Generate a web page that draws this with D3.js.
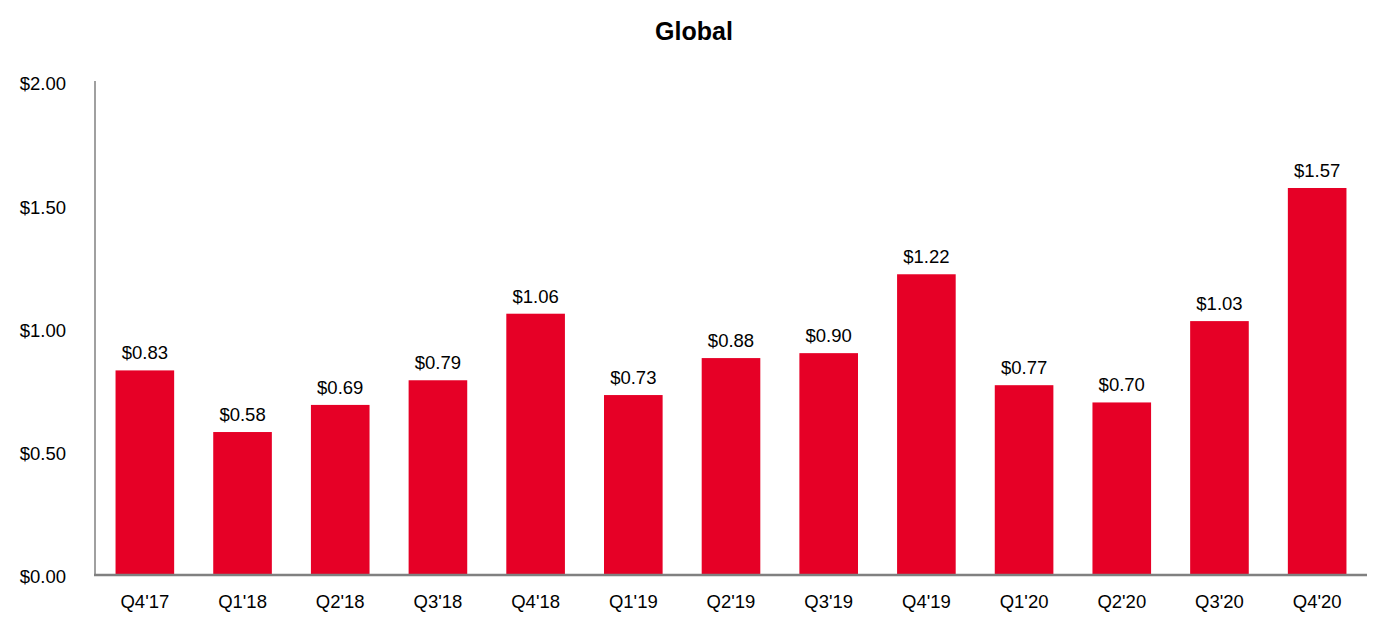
<!DOCTYPE html>
<html><head><meta charset="utf-8">
<script src="https://cdn.jsdelivr.net/npm/d3@7"></script>
<style>body{margin:0;background:#fff;}svg{display:block;font-family:"Liberation Sans",Arial,sans-serif;}</style>
</head><body>
<svg id="c" width="1386" height="630"></svg>
<script>
const categories = ["Q4'17","Q1'18","Q2'18","Q3'18","Q4'18","Q1'19","Q2'19","Q3'19","Q4'19","Q1'20","Q2'20","Q3'20","Q4'20"];
const values = [0.83,0.58,0.69,0.79,1.06,0.73,0.88,0.90,1.22,0.77,0.70,1.03,1.57];
const yTicks = [0,0.5,1.0,1.5,2.0];
const title = "Global";

const svg = d3.select("#c");
const x = d3.scaleBand().domain(categories).range([96,1366]).paddingInner(0.4).paddingOuter(0.2);
const y = d3.scaleLinear().domain([0,2]).range([575,82]);
const fmt = d => "$" + d.toFixed(2);

svg.append("text").attr("x",694).attr("y",40).attr("text-anchor","middle")
  .attr("font-size",25).attr("font-weight","bold").attr("fill","#000").text(title);

svg.selectAll("rect.bar").data(values).enter().append("rect").attr("class","bar")
  .attr("x",(d,i)=>x(categories[i])).attr("width",x.bandwidth())
  .attr("y",d=>y(d)).attr("height",d=>y(0)-y(d)).attr("fill","#E60026");

svg.selectAll("text.val").data(values).enter().append("text").attr("class","val")
  .attr("x",(d,i)=>x(categories[i])+x.bandwidth()/2).attr("y",d=>y(d)-11)
  .attr("text-anchor","middle").attr("font-size",18.5).attr("fill","#000").text(fmt);

// y axis
const ya = svg.append("g").attr("transform","translate(95,0)")
  .call(d3.axisLeft(y).tickValues(yTicks).tickSize(0).tickPadding(29).tickFormat(fmt));
ya.select(".domain").remove();
ya.selectAll("text").attr("font-size",18.5).attr("fill","#000").attr("font-family","Liberation Sans, Arial, sans-serif").attr("dy","0.42em");
svg.append("line").attr("x1",95).attr("x2",95).attr("y1",81).attr("y2",575).attr("stroke","#a0a0a0").attr("stroke-width",2);

// x axis
const xa = svg.append("g").attr("transform","translate(0,575)")
  .call(d3.axisBottom(x).tickSize(0).tickPadding(20));
xa.select(".domain").remove();
xa.selectAll("text").attr("font-size",18.5).attr("fill","#000").attr("font-family","Liberation Sans, Arial, sans-serif");
svg.append("line").attr("x1",94).attr("x2",1367).attr("y1",575).attr("y2",575).attr("stroke","#808080").attr("stroke-width",2.5);
</script>
</body></html>
